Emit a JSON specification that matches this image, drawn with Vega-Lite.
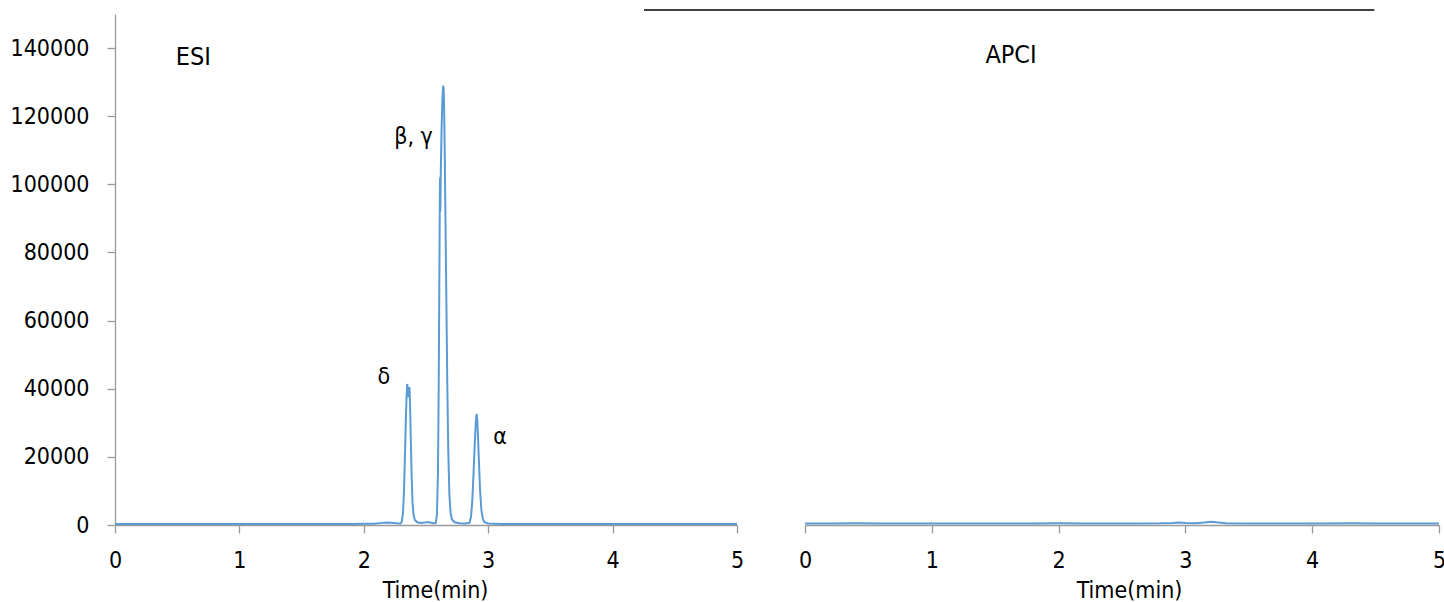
{
  "$schema": "https://vega.github.io/schema/vega-lite/v6.json",
  "autosize": "pad",
  "padding": {"left": 10, "top": 9, "right": 0, "bottom": 0},
  "background": "white",
  "bounds": "flush",
  "spacing": 68,
  "config": {
    "view": {"stroke": null},
    "font": "DejaVu Sans Condensed",
    "axis": {
      "grid": false,
      "domainColor": "#9a9a9a",
      "domainWidth": 1.3,
      "tickColor": "#9a9a9a",
      "tickWidth": 1.3,
      "tickSize": 8,
      "labelColor": "#000000",
      "labelFont": "DejaVu Sans Condensed",
      "labelFontSize": 23,
      "labelFlush": false,
      "titleFont": "DejaVu Sans Condensed",
      "titleFontSize": 23,
      "titleFontWeight": "normal",
      "titleColor": "#000000"
    }
  },
  "datasets": {
    "esi": [
      {"t": 0.0, "i": 300}, {"t": 0.1, "i": 260}, {"t": 0.2, "i": 330}, {"t": 0.3, "i": 280}, {"t": 0.4, "i": 310},
      {"t": 0.5, "i": 270}, {"t": 0.6, "i": 320}, {"t": 0.7, "i": 290}, {"t": 0.8, "i": 300}, {"t": 0.9, "i": 260},
      {"t": 1.0, "i": 310}, {"t": 1.1, "i": 280}, {"t": 1.2, "i": 320}, {"t": 1.3, "i": 270}, {"t": 1.4, "i": 300},
      {"t": 1.5, "i": 310}, {"t": 1.6, "i": 280}, {"t": 1.7, "i": 300}, {"t": 1.8, "i": 320}, {"t": 1.9, "i": 300},
      {"t": 2.0, "i": 350}, {"t": 2.08, "i": 400}, {"t": 2.13, "i": 550}, {"t": 2.18, "i": 700}, {"t": 2.22, "i": 650},
      {"t": 2.26, "i": 500}, {"t": 2.295, "i": 450}, {"t": 2.305, "i": 900}, {"t": 2.315, "i": 3500}, {"t": 2.322, "i": 9000},
      {"t": 2.33, "i": 19000}, {"t": 2.338, "i": 31000}, {"t": 2.344, "i": 38000}, {"t": 2.349, "i": 41400}, {"t": 2.353, "i": 40000},
      {"t": 2.357, "i": 37500}, {"t": 2.362, "i": 39500}, {"t": 2.367, "i": 40500}, {"t": 2.372, "i": 35000}, {"t": 2.378, "i": 25000},
      {"t": 2.385, "i": 14000}, {"t": 2.392, "i": 6500}, {"t": 2.40, "i": 3000}, {"t": 2.41, "i": 1500}, {"t": 2.43, "i": 800},
      {"t": 2.46, "i": 600}, {"t": 2.49, "i": 700}, {"t": 2.51, "i": 850}, {"t": 2.53, "i": 750}, {"t": 2.56, "i": 550},
      {"t": 2.578, "i": 600}, {"t": 2.588, "i": 3000}, {"t": 2.596, "i": 15000}, {"t": 2.602, "i": 40000}, {"t": 2.607, "i": 70000},
      {"t": 2.611, "i": 95000}, {"t": 2.613, "i": 102000}, {"t": 2.615, "i": 92000}, {"t": 2.619, "i": 104000}, {"t": 2.625, "i": 116000},
      {"t": 2.632, "i": 125000}, {"t": 2.638, "i": 129000}, {"t": 2.642, "i": 128000}, {"t": 2.646, "i": 122000}, {"t": 2.651, "i": 108000},
      {"t": 2.657, "i": 88000}, {"t": 2.664, "i": 65000}, {"t": 2.671, "i": 42000}, {"t": 2.679, "i": 22000}, {"t": 2.688, "i": 9000},
      {"t": 2.697, "i": 3800}, {"t": 2.708, "i": 1600}, {"t": 2.73, "i": 800}, {"t": 2.77, "i": 500}, {"t": 2.82, "i": 450},
      {"t": 2.85, "i": 700}, {"t": 2.862, "i": 2500}, {"t": 2.872, "i": 7000}, {"t": 2.882, "i": 15000}, {"t": 2.892, "i": 24000},
      {"t": 2.9, "i": 30000}, {"t": 2.907, "i": 32600}, {"t": 2.912, "i": 31000}, {"t": 2.918, "i": 26000}, {"t": 2.926, "i": 18000},
      {"t": 2.935, "i": 10000}, {"t": 2.945, "i": 4500}, {"t": 2.957, "i": 1800}, {"t": 2.97, "i": 800}, {"t": 3.0, "i": 450},
      {"t": 3.1, "i": 330}, {"t": 3.2, "i": 300}, {"t": 3.3, "i": 320}, {"t": 3.4, "i": 280}, {"t": 3.5, "i": 310},
      {"t": 3.6, "i": 290}, {"t": 3.7, "i": 300}, {"t": 3.8, "i": 270}, {"t": 3.9, "i": 310}, {"t": 4.0, "i": 300},
      {"t": 4.1, "i": 280}, {"t": 4.2, "i": 320}, {"t": 4.3, "i": 290}, {"t": 4.4, "i": 300}, {"t": 4.5, "i": 270},
      {"t": 4.6, "i": 310}, {"t": 4.7, "i": 290}, {"t": 4.8, "i": 300}, {"t": 4.9, "i": 280}, {"t": 5.0, "i": 300}
    ],
    "apci": [
      {"t": 0.0, "i": 450}, {"t": 0.2, "i": 420}, {"t": 0.4, "i": 480}, {"t": 0.6, "i": 430}, {"t": 0.8, "i": 460},
      {"t": 1.0, "i": 440}, {"t": 1.2, "i": 470}, {"t": 1.4, "i": 430}, {"t": 1.6, "i": 460}, {"t": 1.8, "i": 450},
      {"t": 2.0, "i": 480}, {"t": 2.2, "i": 440}, {"t": 2.4, "i": 470}, {"t": 2.6, "i": 450}, {"t": 2.8, "i": 480},
      {"t": 2.9, "i": 600}, {"t": 2.95, "i": 750}, {"t": 3.0, "i": 620}, {"t": 3.08, "i": 500}, {"t": 3.15, "i": 700},
      {"t": 3.2, "i": 950}, {"t": 3.26, "i": 700}, {"t": 3.32, "i": 500}, {"t": 3.5, "i": 460}, {"t": 3.7, "i": 440},
      {"t": 3.9, "i": 470}, {"t": 4.1, "i": 450}, {"t": 4.3, "i": 480}, {"t": 4.5, "i": 440}, {"t": 4.7, "i": 470},
      {"t": 4.9, "i": 450}, {"t": 5.0, "i": 460}
    ],
    "esiLabels": [
      {"t": 0.63, "i": 137400, "label": "ESI", "size": 25},
      {"t": 2.40, "i": 114000, "label": "β, γ", "size": 23},
      {"t": 2.16, "i": 43400, "label": "δ", "size": 23},
      {"t": 3.095, "i": 25800, "label": "α", "size": 23}
    ],
    "apciLabels": [
      {"t": 1.625, "i": 138000, "label": "APCI", "size": 25}
    ],
    "topRule": [
      {"t": -1.27, "t2": 4.49, "i": 151200}
    ]
  },
  "hconcat": [
    {
      "width": 622,
      "height": 511,
      "layer": [
        {
          "data": {"name": "esi"},
          "mark": {"type": "line", "color": "#5B9BD5", "strokeWidth": 2, "clip": true},
          "encoding": {
            "x": {"field": "t", "type": "quantitative", "scale": {"domain": [0, 5], "nice": false},
                  "axis": {"values": [0, 1, 2, 3, 4, 5], "title": "Time(min)", "labelPadding": 16, "titlePadding": 7, "titleX": 320, "format": "d"}},
            "y": {"field": "i", "type": "quantitative", "scale": {"domain": [0, 150000], "nice": false},
                  "axis": {"values": [0, 20000, 40000, 60000, 80000, 100000, 120000, 140000], "title": null, "labelPadding": 18, "format": "d"}}
          }
        },
        {
          "data": {"name": "esiLabels"},
          "mark": {"type": "text", "font": "DejaVu Sans Condensed", "color": "#000000", "baseline": "middle", "align": "center"},
          "encoding": {
            "x": {"field": "t", "type": "quantitative"},
            "y": {"field": "i", "type": "quantitative"},
            "text": {"field": "label"},
            "size": {"field": "size", "type": "quantitative", "scale": null, "legend": null}
          }
        }
      ]
    },
    {
      "width": 634,
      "height": 511,
      "layer": [
        {
          "data": {"name": "apci"},
          "mark": {"type": "line", "color": "#5B9BD5", "strokeWidth": 2, "clip": true},
          "encoding": {
            "x": {"field": "t", "type": "quantitative", "scale": {"domain": [0, 5], "nice": false},
                  "axis": {"values": [0, 1, 2, 3, 4, 5], "title": "Time(min)", "labelPadding": 16, "titlePadding": 7, "titleX": 324, "format": "d"}},
            "y": {"field": "i", "type": "quantitative", "scale": {"domain": [0, 150000], "nice": false}, "axis": null}
          }
        },
        {
          "data": {"name": "apciLabels"},
          "mark": {"type": "text", "font": "DejaVu Sans Condensed", "color": "#000000", "baseline": "middle", "align": "center"},
          "encoding": {
            "x": {"field": "t", "type": "quantitative"},
            "y": {"field": "i", "type": "quantitative"},
            "text": {"field": "label"},
            "size": {"field": "size", "type": "quantitative", "scale": null, "legend": null}
          }
        },
        {
          "data": {"name": "topRule"},
          "mark": {"type": "rule", "color": "#000000", "strokeWidth": 1.5, "clip": false},
          "encoding": {
            "x": {"field": "t", "type": "quantitative"},
            "x2": {"field": "t2"},
            "y": {"field": "i", "type": "quantitative"}
          }
        }
      ]
    }
  ]
}
